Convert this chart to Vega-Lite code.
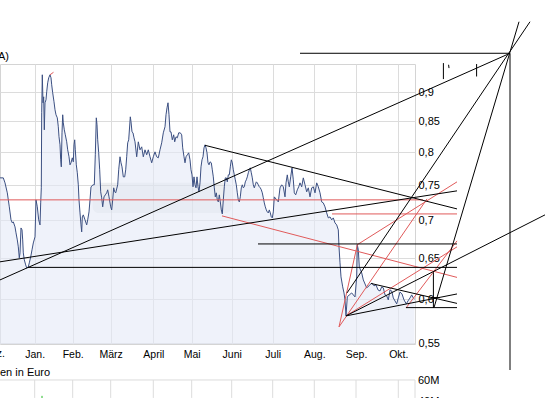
{
  "$schema": "https://vega.github.io/schema/vega-lite/v6.json",
  "width": 415,
  "height": 280,
  "autosize": "none",
  "padding": {"left": 0, "top": 64, "right": 130, "bottom": 54},
  "background": "#ffffff",
  "config": {
    "view": {"stroke": "#d4d4d4", "strokeWidth": 1},
    "axis": {"labelFont": "Liberation Sans", "labelColor": "#000000", "gridColor": "#dcdcdc", "gridWidth": 1, "domain": false, "ticks": false, "tickSize": 0, "title": null}
  },
  "datasets": {
    "price": [
      {"t":0,"v":0.7608},{"t":1.65,"v":0.7608},{"t":2.5,"v":0.7534},{"t":3.65,"v":0.7388},{"t":4.65,"v":0.7188},{"t":5.5,"v":0.7007},{"t":6.15,"v":0.6966},{"t":6.65,"v":0.698},{"t":7.5,"v":0.6911},{"t":8,"v":0.6831},{"t":8.65,"v":0.6737},{"t":9.15,"v":0.6646},{"t":9.65,"v":0.6504},{"t":10,"v":0.6568},{"t":10.5,"v":0.6897},{"t":11,"v":0.6871},{"t":11.35,"v":0.6737},{"t":11.65,"v":0.6568},{"t":12.15,"v":0.6479},{"t":12.85,"v":0.6415},{"t":13.35,"v":0.6377},{"t":14.15,"v":0.639},{"t":14.65,"v":0.6441},{"t":15.35,"v":0.6516},{"t":16,"v":0.6607},{"t":16.65,"v":0.6697},{"t":17.5,"v":0.6777},{"t":18,"v":0.7287},{"t":18.65,"v":0.7188},{"t":19.35,"v":0.7007},{"t":20,"v":0.6938},{"t":20.35,"v":0.7244},{"t":20.65,"v":0.7461},{"t":20.85,"v":0.8643},{"t":21.15,"v":0.9311},{"t":21.5,"v":0.8814},{"t":21.85,"v":0.8918},{"t":22.15,"v":0.8359},{"t":22.5,"v":0.8814},{"t":23,"v":0.8866},{"t":23.35,"v":0.9006},{"t":23.85,"v":0.9166},{"t":24.35,"v":0.9256},{"t":25,"v":0.9311},{"t":25.5,"v":0.9256},{"t":25.85,"v":0.913},{"t":26.35,"v":0.8988},{"t":27,"v":0.8831},{"t":27.5,"v":0.8694},{"t":28,"v":0.8609},{"t":28.65,"v":0.8558},{"t":29.15,"v":0.8409},{"t":29.5,"v":0.8246},{"t":30,"v":0.8117},{"t":30.35,"v":0.7882},{"t":30.65,"v":0.7774},{"t":31,"v":0.831},{"t":31.35,"v":0.8609},{"t":31.65,"v":0.8475},{"t":32.15,"v":0.8359},{"t":32.65,"v":0.8278},{"t":33.35,"v":0.8165},{"t":33.85,"v":0.8038},{"t":34.5,"v":0.7929},{"t":35,"v":0.7805},{"t":35.5,"v":0.7836},{"t":36.15,"v":0.7913},{"t":36.65,"v":0.7851},{"t":37,"v":0.8117},{"t":37.35,"v":0.8197},{"t":37.65,"v":0.8038},{"t":38.15,"v":0.7805},{"t":38.65,"v":0.7684},{"t":39.15,"v":0.7505},{"t":39.5,"v":0.7287},{"t":40,"v":0.7103},{"t":40.5,"v":0.6938},{"t":40.85,"v":0.6844},{"t":41.15,"v":0.7048},{"t":41.65,"v":0.7076},{"t":42.5,"v":0.7007},{"t":43.35,"v":0.6938},{"t":43.85,"v":0.7007},{"t":44.5,"v":0.7117},{"t":45,"v":0.7287},{"t":45.5,"v":0.7476},{"t":46.5,"v":0.7505},{"t":47.15,"v":0.7505},{"t":47.65,"v":0.796},{"t":48.15,"v":0.8558},{"t":48.5,"v":0.8442},{"t":48.85,"v":0.8197},{"t":49.35,"v":0.7991},{"t":49.85,"v":0.7729},{"t":50.35,"v":0.7403},{"t":50.85,"v":0.7316},{"t":51.35,"v":0.7188},{"t":52,"v":0.733},{"t":52.65,"v":0.7359},{"t":53.35,"v":0.7388},{"t":53.85,"v":0.7432},{"t":54.5,"v":0.733},{"t":55.35,"v":0.7188},{"t":55.85,"v":0.7145},{"t":56.35,"v":0.7287},{"t":56.85,"v":0.7461},{"t":57.35,"v":0.7403},{"t":57.85,"v":0.7388},{"t":58.85,"v":0.7505},{"t":59.35,"v":0.7729},{"t":60,"v":0.7929},{"t":60.5,"v":0.7836},{"t":61,"v":0.7774},{"t":61.65,"v":0.7623},{"t":62.35,"v":0.7623},{"t":62.85,"v":0.7729},{"t":63.35,"v":0.7929},{"t":63.85,"v":0.8149},{"t":64.35,"v":0.8197},{"t":65.15,"v":0.8575},{"t":65.5,"v":0.8492},{"t":66,"v":0.8326},{"t":66.5,"v":0.831},{"t":67,"v":0.8229},{"t":67.5,"v":0.8165},
      {"t":68.35,"v":0.7929},{"t":69.15,"v":0.8165},{"t":70,"v":0.8038},{"t":70.85,"v":0.8085},{"t":71.65,"v":0.7929},{"t":72.5,"v":0.8038},{"t":73.35,"v":0.796},{"t":74.15,"v":0.8038},{"t":75,"v":0.7929},{"t":75.85,"v":0.7836},{"t":76.65,"v":0.7929},{"t":77.5,"v":0.8006},{"t":78.35,"v":0.7929},{"t":79.15,"v":0.7913},{"t":80,"v":0.8038},{"t":80.85,"v":0.8149},{"t":81.65,"v":0.831},{"t":82.5,"v":0.8409},{"t":83,"v":0.8609},{"t":83.5,"v":0.8727},{"t":84,"v":0.8814},{"t":84.5,"v":0.8609},{"t":85,"v":0.8326},{"t":85.5,"v":0.8326},{"t":86.15,"v":0.8197},{"t":86.85,"v":0.8278},{"t":87.35,"v":0.8165},{"t":88,"v":0.8246},{"t":88.65,"v":0.8229},{"t":89.35,"v":0.831},{"t":90.15,"v":0.831},{"t":90.85,"v":0.8278},{"t":91.35,"v":0.8069},{"t":92,"v":0.7929},{"t":92.5,"v":0.7836},{"t":93,"v":0.7929},{"t":93.65,"v":0.796},{"t":94.35,"v":0.7991},{"t":95,"v":0.7882},{"t":95.5,"v":0.7729},{"t":96,"v":0.7653},{"t":96.5,"v":0.7476},{"t":97,"v":0.7623},{"t":97.5,"v":0.7505},{"t":98,"v":0.7461},{"t":98.5,"v":0.7623},{"t":99,"v":0.7476},{"t":99.5,"v":0.7403},{"t":100,"v":0.7534},{"t":100.5,"v":0.7774},{"t":101,"v":0.7882},{"t":101.5,"v":0.7929},{"t":102,"v":0.8069},{"t":102.5,"v":0.8117},{"t":103,"v":0.8069},{"t":103.5,"v":0.7991},{"t":104,"v":0.7836},{"t":104.5,"v":0.7805},{"t":105,"v":0.7851},{"t":105.65,"v":0.7836},{"t":106.15,"v":0.7729},{"t":106.65,"v":0.7623},{"t":107.15,"v":0.7461},{"t":107.65,"v":0.733},{"t":108.15,"v":0.7388},{"t":108.65,"v":0.7287},{"t":109.15,"v":0.7258},{"t":109.65,"v":0.7359},{"t":110.15,"v":0.7258},{"t":110.65,"v":0.7145},{"t":111.15,"v":0.7089},{"t":111.65,"v":0.7287},{"t":112.15,"v":0.7476},{"t":112.65,"v":0.7608},{"t":113.15,"v":0.7608},{"t":113.65,"v":0.7549},{"t":114.15,"v":0.7653},{"t":114.65,"v":0.7653},{"t":115.15,"v":0.7774},{"t":115.65,"v":0.7882},{"t":116.15,"v":0.7836},{"t":116.65,"v":0.7729},{"t":117.15,"v":0.7653},{"t":117.65,"v":0.7579},{"t":118.15,"v":0.7505},{"t":118.65,"v":0.7388},{"t":119.15,"v":0.7287},{"t":119.65,"v":0.7258},{"t":120.15,"v":0.733},{"t":120.65,"v":0.7461},{"t":121.15,"v":0.7505},{"t":121.65,"v":0.7461},{"t":122.15,"v":0.7476},{"t":122.65,"v":0.7549},{"t":123.15,"v":0.7579},{"t":123.65,"v":0.7623},{"t":124.15,"v":0.7684},{"t":124.65,"v":0.7729},{"t":125.15,"v":0.7759},{"t":125.65,"v":0.7684},{"t":126.15,"v":0.7608},{"t":126.65,"v":0.7505},{"t":127.15,"v":0.7461},{"t":127.65,"v":0.7505},{"t":128.15,"v":0.7549},{"t":128.65,"v":0.7534},{"t":129.15,"v":0.7505},{"t":129.65,"v":0.7476},{"t":130.15,"v":0.7461},{"t":130.65,"v":0.7432},{"t":131.15,"v":0.7388},{"t":131.65,"v":0.7316},{"t":132.15,"v":0.7244},{"t":132.65,"v":0.7188},{"t":133.15,"v":0.7145},{"t":133.65,"v":0.7117},{"t":134.15,"v":0.7103},{"t":134.65,"v":0.7145},{"t":135.15,"v":0.7103},{"t":135.65,"v":0.7048},{"t":136.15,"v":0.7034},{"t":136.65,"v":0.7117},{"t":137.15,"v":0.733},
      {"t":138.35,"v":0.7287},{"t":139.15,"v":0.7258},{"t":140,"v":0.7461},{"t":140.85,"v":0.7505},{"t":141.65,"v":0.7476},{"t":142.5,"v":0.733},{"t":143,"v":0.7534},{"t":143.65,"v":0.7653},{"t":144.15,"v":0.7549},{"t":144.65,"v":0.7476},{"t":145.35,"v":0.7623},{"t":146,"v":0.7759},{"t":146.65,"v":0.7579},{"t":147.15,"v":0.7388},{"t":147.85,"v":0.7359},{"t":148.65,"v":0.7432},{"t":149.35,"v":0.7476},{"t":150,"v":0.7534},{"t":150.85,"v":0.7476},{"t":151.65,"v":0.7608},{"t":152.5,"v":0.7505},{"t":153.35,"v":0.7403},{"t":154.15,"v":0.7461},{"t":155,"v":0.733},{"t":155.85,"v":0.7461},{"t":156.65,"v":0.7476},{"t":157.5,"v":0.7388},{"t":158.35,"v":0.7534},{"t":159.15,"v":0.7476},{"t":160,"v":0.7388},{"t":160.85,"v":0.7258},{"t":161.65,"v":0.7244},{"t":162.5,"v":0.7188},{"t":163.35,"v":0.7103},{"t":164.15,"v":0.7034},{"t":165,"v":0.7048},{"t":165.85,"v":0.7007},{"t":166.65,"v":0.7034},{"t":167.5,"v":0.6966},{"t":168.35,"v":0.6938},{"t":169.15,"v":0.6871},{"t":169.5,"v":0.6646},{"t":170,"v":0.6441},{"t":170.5,"v":0.6266},{"t":171.35,"v":0.6145},{"t":172,"v":0.6072},{"t":172.5,"v":0.599},{"t":173,"v":0.5805},{"t":173.65,"v":0.6025},{"t":174.65,"v":0.6049},{"t":175.85,"v":0.6072},{"t":177.5,"v":0.6025},{"t":178.35,"v":0.6266},{"t":178.65,"v":0.6672},{"t":179.15,"v":0.6607},{"t":179.65,"v":0.639},{"t":180.85,"v":0.6316},{"t":181.65,"v":0.6229},{"t":183.35,"v":0.6133},{"t":184.5,"v":0.6157},{"t":185.85,"v":0.6192},{"t":187,"v":0.6157},{"t":188,"v":0.6169},{"t":189,"v":0.6108},{"t":190,"v":0.6096},{"t":190.85,"v":0.6145},{"t":191.65,"v":0.6133},{"t":192.5,"v":0.6049},{"t":193.35,"v":0.6037},{"t":194.15,"v":0.599},{"t":195,"v":0.6108},{"t":195.85,"v":0.6096},{"t":196.65,"v":0.6013},{"t":198.35,"v":0.5943},{"t":199.15,"v":0.6013},{"t":200,"v":0.6084},{"t":201,"v":0.606},{"t":202,"v":0.599},{"t":203.15,"v":0.5943},{"t":204,"v":0.5978},{"t":205,"v":0.6013},{"t":205.85,"v":0.6049},{"t":206.65,"v":0.6013},{"t":207.25,"v":0.6002}
    ],
    "segs": [
      {"t1":0,"v1":0.5120,"t2":207.5,"v2":0.5120,"c":"g"},
      {"t1":17.35,"v1":0.5120,"t2":17.35,"v2":0.4943,"c":"g"},
      {"t1":36.35,"v1":0.5120,"t2":36.35,"v2":0.4943,"c":"g"},
      {"t1":55.35,"v1":0.5120,"t2":55.35,"v2":0.4943,"c":"g"},
      {"t1":76.65,"v1":0.5120,"t2":76.65,"v2":0.4943,"c":"g"},
      {"t1":95.85,"v1":0.5120,"t2":95.85,"v2":0.4943,"c":"g"},
      {"t1":115.85,"v1":0.5120,"t2":115.85,"v2":0.4943,"c":"g"},
      {"t1":136.35,"v1":0.5120,"t2":136.35,"v2":0.4943,"c":"g"},
      {"t1":157.15,"v1":0.5120,"t2":157.15,"v2":0.4943,"c":"g"},
      {"t1":178,"v1":0.5120,"t2":178,"v2":0.4943,"c":"g"},
      {"t1":199.15,"v1":0.5120,"t2":199.15,"v2":0.4943,"c":"g"},
      {"t1":207.5,"v1":0.5120,"t2":207.5,"v2":0.4943,"c":"g"},
      {"t1":21,"v1":0.4963,"t2":21,"v2":0.4923,"c":"v"},
      {"t1":0,"v1":0.7287,"t2":211.5,"v2":0.7287,"c":"r"},
      {"t1":166,"v1":0.7089,"t2":228.5,"v2":0.7089,"c":"r"},
      {"t1":111,"v1":0.7062,"t2":228.5,"v2":0.626,"c":"r"},
      {"t1":178.5,"v1":0.6672,"t2":228.5,"v2":0.7549,"c":"r"},
      {"t1":169.5,"v1":0.5681,"t2":178.65,"v2":0.6672,"c":"r"},
      {"t1":169.5,"v1":0.5681,"t2":213.5,"v2":0.7301,"c":"r"},
      {"t1":173,"v1":0.5805,"t2":228.5,"v2":0.6646,"c":"r"},
      {"t1":203,"v1":0.5896,"t2":228.5,"v2":0.6724,"c":"r"},
      {"t1":25,"v1":0.9311,"t2":26.75,"v2":0.9357,"c":"r"},
      {"t1":150,"v1":0.9712,"t2":255,"v2":0.9712,"c":"k"},
      {"t1":255,"v1":0.9712,"t2":255,"v2":0.5221,"c":"k"},
      {"t1":0,"v1":0.6229,"t2":255,"v2":0.9712,"c":"k"},
      {"t1":0,"v1":0.6454,"t2":228.5,"v2":0.7417,"c":"k"},
      {"t1":102.5,"v1":0.8109,"t2":228.5,"v2":0.7159,"c":"k"},
      {"t1":14,"v1":0.6384,"t2":228.5,"v2":0.6384,"c":"k"},
      {"t1":129,"v1":0.6684,"t2":228.5,"v2":0.6684,"c":"k"},
      {"t1":173.5,"v1":0.6072,"t2":265,"v2":1.0331,"c":"k"},
      {"t1":217,"v1":0.59,"t2":259.5,"v2":1.0331,"c":"k"},
      {"t1":173,"v1":0.5805,"t2":272.5,"v2":0.7076,"c":"k"},
      {"t1":173,"v1":0.5805,"t2":228.5,"v2":0.606,"c":"k"},
      {"t1":185.5,"v1":0.6186,"t2":228.5,"v2":0.5949,"c":"k"},
      {"t1":203,"v1":0.59,"t2":228.5,"v2":0.59,"c":"k"},
      {"t1":216.7,"v1":0.6324,"t2":216.7,"v2":0.5896,"c":"k"},
      {"t1":215.5,"v1":0.6017,"t2":220,"v2":0.6017,"c":"k"},
      {"t1":221.7,"v1":0.9527,"t2":221.7,"v2":0.9233,"c":"k"},
      {"t1":238.3,"v1":0.9509,"t2":238.3,"v2":0.928,"c":"k"},
      {"t1":224.3,"v1":0.9496,"t2":224.5,"v2":0.9434,"c":"k"}
    ],
    "texts": [
      {"t":209,"v":0.511,"label":"60M"},
      {"t":209,"v":0.4905,"label":"40M"},
      {"t":0,"v":0.5191,"label":"en in Euro"},
      {"t":-1,"v":0.9646,"label":"A)"}
    ],
    "ctexts": [
      {"t":-3,"v":0.5383,"label":"Dez."}
    ],
    "mark": [
      {"t1":46.3,"t2":115.8,"v1":0.7534,"v2":0.7103}
    ]
  },
  "layer": [
    {
      "data": {"name": "mark"},
      "mark": {"type": "rect", "color": "#c8cad0", "opacity": 0.3, "cornerRadius": 6},
      "encoding": {
        "x": {"field": "t1", "type": "quantitative", "scale": {"domain": [0, 207.5], "nice": false, "zero": false}},
        "x2": {"field": "t2"},
        "y": {"field": "v1", "type": "quantitative", "scale": {"type": "log", "domain": [0.5494, 0.951], "nice": false, "zero": false}},
        "y2": {"field": "v2"}
      }
    },
    {
      "data": {"name": "price"},
      "mark": {"type": "area", "color": "#e4e9f6", "opacity": 0.6},
      "encoding": {
        "x": {"field": "t", "type": "quantitative",
          "axis": {"orient": "bottom", "grid": true, "labelOverlap": false, "labelFlush": false, "labelBound": false, "labelPadding": 5, "labelFontSize": 10.5,
            "values": [17.35, 36.35, 55.35, 76.65, 95.85, 115.85, 136.35, 157.15, 178, 199.15],
            "labelExpr": "datum.value < 20 ? 'Jan.' : datum.value < 40 ? 'Feb.' : datum.value < 60 ? 'März' : datum.value < 80 ? 'April' : datum.value < 100 ? 'Mai' : datum.value < 120 ? 'Juni' : datum.value < 140 ? 'Juli' : datum.value < 160 ? 'Aug.' : datum.value < 190 ? 'Sep.' : 'Okt.'"}},
        "y": {"field": "v", "type": "quantitative",
          "axis": {"orient": "right", "grid": true, "labelPadding": 3, "labelFontSize": 11, "labelOverlap": false, "labelBound": false,
            "values": [0.55, 0.6, 0.65, 0.7, 0.75, 0.8, 0.85, 0.9],
            "labelExpr": "replace(format(datum.value, '.2~f'), '.', ',')"}},
        "y2": {"datum": 0.5494}
      }
    },
    {
      "data": {"name": "price"},
      "mark": {"type": "line", "color": "#3c5082", "strokeWidth": 1},
      "encoding": {
        "x": {"field": "t", "type": "quantitative"},
        "y": {"field": "v", "type": "quantitative"}
      }
    },
    {
      "data": {"name": "segs"},
      "mark": {"type": "rule", "strokeWidth": 1},
      "encoding": {
        "x": {"field": "t1", "type": "quantitative"},
        "x2": {"field": "t2"},
        "y": {"field": "v1", "type": "quantitative"},
        "y2": {"field": "v2"},
        "color": {"field": "c", "type": "nominal", "legend": null,
          "scale": {"domain": ["g", "v", "r", "k"], "range": ["#dcdcdc", "#22bb22", "#e05a5a", "#000000"]}},
        "order": {"field": "c", "sort": "descending"}
      }
    },
    {
      "data": {"name": "texts"},
      "mark": {"type": "text", "align": "left", "baseline": "middle", "font": "Liberation Sans", "fontSize": 11, "color": "#000000"},
      "encoding": {
        "x": {"field": "t", "type": "quantitative"},
        "y": {"field": "v", "type": "quantitative"},
        "text": {"field": "label"}
      }
    },
    {
      "data": {"name": "ctexts"},
      "mark": {"type": "text", "align": "center", "baseline": "middle", "font": "Liberation Sans", "fontSize": 10.5, "color": "#000000"},
      "encoding": {
        "x": {"field": "t", "type": "quantitative"},
        "y": {"field": "v", "type": "quantitative"},
        "text": {"field": "label"}
      }
    }
  ]
}
